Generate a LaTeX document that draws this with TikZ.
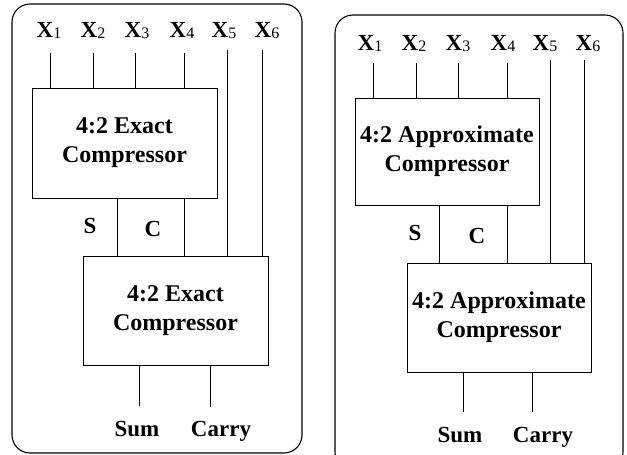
\documentclass[tikz,border=0pt]{standalone}
\usepackage{fontspec}
\setmainfont{Liberation Serif}
\usetikzlibrary{positioning}
\newcommand{\xin}[1]{X\raisebox{-1.5pt}{\fontsize{16}{16}\selectfont\mdseries #1}}

\begin{document}
\begin{tikzpicture}[x=1pt,y=-1pt,line width=1pt]
    \tikzstyle{panel}=[draw,line width=1.1pt,rounded corners=18pt]
    \tikzstyle{comp}=[draw,minimum width=185pt,minimum height=110pt,inner sep=0pt,align=center,font=\fontsize{24}{29}\selectfont\bfseries]
    \tikzstyle{lbl}=[inner sep=0pt,anchor=base,font=\fontsize{23}{23}\selectfont\bfseries]

    \useasboundingbox (0,0) rectangle (627,455);

    % exact compressors
    \draw[panel] (12,4) rectangle (302,453);
    \node(ea) [comp] at (124.5,143) {4:2 Exact\\Compressor};
    \node(eb) [comp,minimum height=109pt] at (175.5,310.5) {4:2 Exact\\Compressor};

    \foreach \i/\lx/\x in {1/49/50,2/93/93,3/137/135,4/182/184} {
        \node(ex\i) [lbl] at (\lx,37) {\xin{\i}};
        \coordinate(et\i) at (\x,53);
        \draw (et\i) -- (et\i |- ea.north);
    }
    \foreach \i/\lx/\x in {5/224/227,6/267/262} {
        \node(ex\i) [lbl] at (\lx,37) {\xin{\i}};
        \coordinate(et\i) at (\x,50);
        \draw (et\i) -- (et\i |- eb.north);
    }
    \coordinate(es) at (117,0);
    \coordinate(ec) at (184,0);
    \draw (es |- ea.south) -- (es |- eb.north);
    \draw (ec |- ea.south) -- (ec |- eb.north);
    \node(esl) [lbl] at (90,233) {S};
    \node(ecl) [lbl] at (153,236) {C};

    \coordinate(esum) at (139,406);
    \coordinate(ecar) at (210,407);
    \draw (esum |- eb.south) -- (esum);
    \draw (ecar |- eb.south) -- (ecar);
    \node(esuml) [lbl] at (137,436) {Sum};
    \node(ecarl) [lbl] at (221,436) {Carry};

    % approximate compressors
    \draw[panel] (335,15) rectangle (623,470);
    \node(aa) [comp,minimum width=184pt,minimum height=107pt] at (447,151.5) {4:2 Approximate\\Compressor};
    \node(ab) [comp,minimum width=184pt,minimum height=109pt] at (499,317.5) {4:2 Approximate\\Compressor};

    \foreach \i/\lx/\x in {1/370/373,2/414/416,3/458/458,4/503/507} {
        \node(ax\i) [lbl] at (\lx,50) {\xin{\i}};
        \coordinate(at\i) at (\x,63);
        \draw (at\i) -- (at\i |- aa.north);
    }
    \foreach \i/\lx/\x in {5/545/550,6/588/584} {
        \node(ax\i) [lbl] at (\lx,50) {\xin{\i}};
        \coordinate(at\i) at (\x,60);
        \draw (at\i) -- (at\i |- ab.north);
    }
    \coordinate(as) at (439,0);
    \coordinate(ac) at (507,0);
    \draw (as |- aa.south) -- (as |- ab.north);
    \draw (ac |- aa.south) -- (ac |- ab.north);
    \node(asl) [lbl] at (415,240) {S};
    \node(acl) [lbl] at (477,243) {C};

    \coordinate(asum) at (463,412);
    \coordinate(acar) at (532,412);
    \draw (asum |- ab.south) -- (asum);
    \draw (acar |- ab.south) -- (acar);
    \node(asuml) [lbl] at (460,442) {Sum};
    \node(acarl) [lbl] at (543,442) {Carry};

\end{tikzpicture}
\end{document}
